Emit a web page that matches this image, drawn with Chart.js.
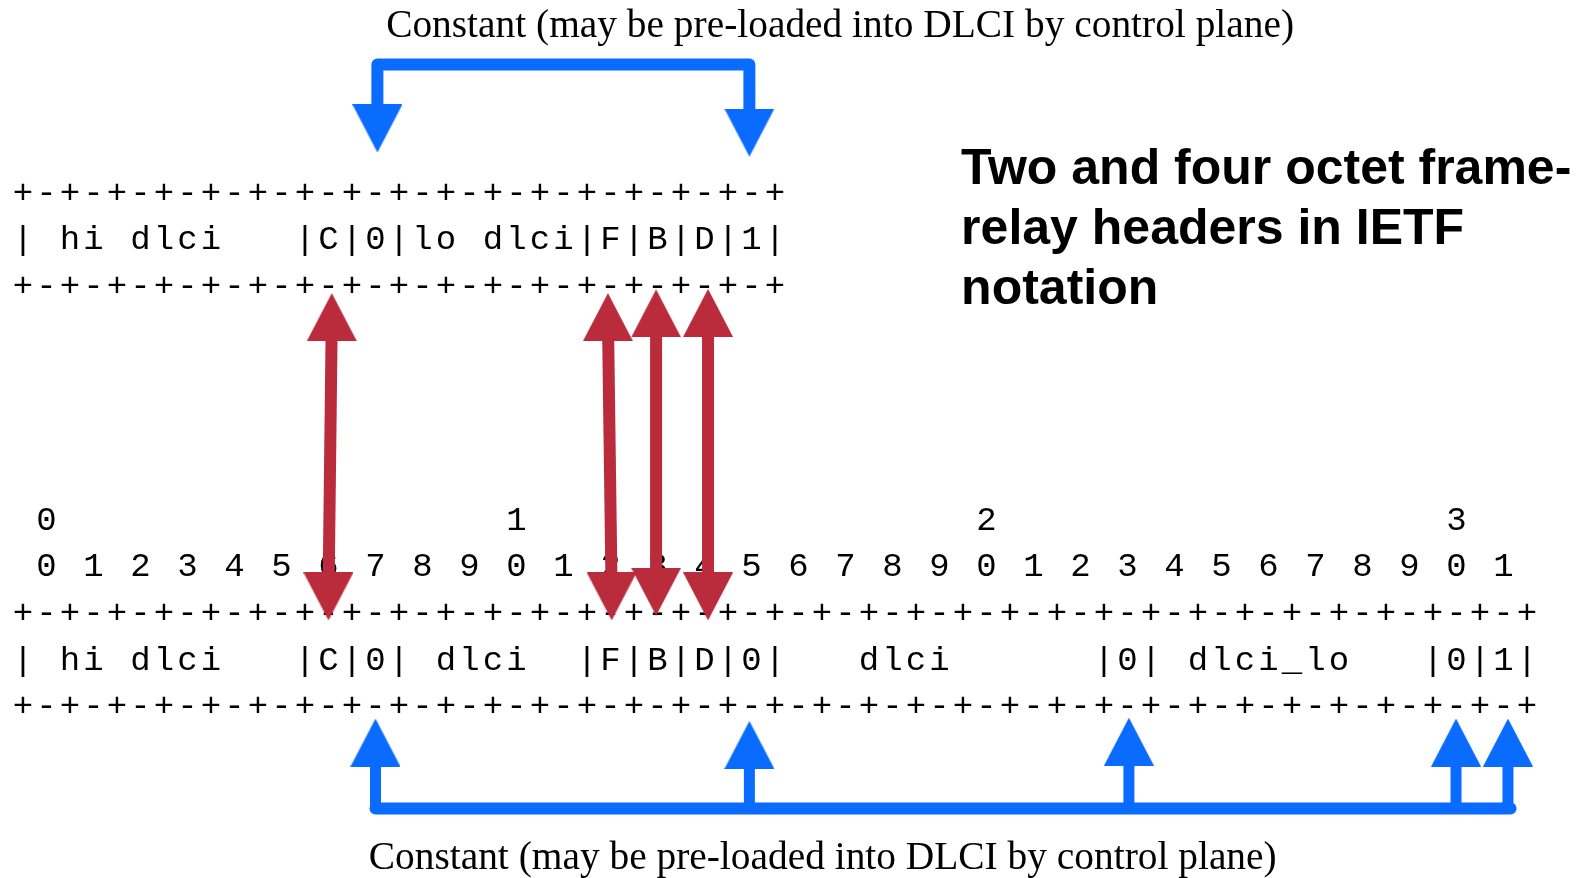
<!DOCTYPE html>
<html>
<head>
<meta charset="utf-8">
<script src="https://cdn.jsdelivr.net/npm/chart.js@4"></script>
<style>
    body { margin: 0; background: #fff; }
    #wrap { width: 1583px; height: 878px; }
</style>
</head>
<body>
<div id="wrap"><canvas id="frChart"></canvas></div>
<script>
// Header rows, one character per column (two columns per bit)
const twoOctetRows = [
    '+-+-+-+-+-+-+-+-+-+-+-+-+-+-+-+-+',
    '| hi dlci   |C|0|lo dlci|F|B|D|1|',
    '+-+-+-+-+-+-+-+-+-+-+-+-+-+-+-+-+'
];
const twoOctetRowY = [0, 1, 2];

// Bit ruler (tick labels)
const bitTens = ' 0                   1                   2                   3';
const bitOnes = ' 0 1 2 3 4 5 6 7 8 9 0 1 2 3 4 5 6 7 8 9 0 1 2 3 4 5 6 7 8 9 0 1';
const rulerRowY = [7, 8];

const fourOctetRows = [
    '+-+-+-+-+-+-+-+-+-+-+-+-+-+-+-+-+-+-+-+-+-+-+-+-+-+-+-+-+-+-+-+-+',
    '| hi dlci   |C|0| dlci  |F|B|D|0|   dlci      |0| dlci_lo   |0|1|',
    '+-+-+-+-+-+-+-+-+-+-+-+-+-+-+-+-+-+-+-+-+-+-+-+-+-+-+-+-+-+-+-+-+'
];
const fourOctetRowY = [9, 10, 11];

const titleLines = ['Two and four octet frame-', 'relay headers in IETF', 'notation'];
const captionText = 'Constant (may be pre-loaded into DLCI by control plane)';

// Blue arrows: constant bits. x = character column, y = text row (arrow head centres)
const topBracket = [[15.08, -1.35], [15.08, -2.72], [30.91, -2.72], [30.91, -1.26]];
const bottomBarY = 13.21;
const bottomBarX = [15.0, 63.3];
const bottomArrowX = [15.0, 30.91, 47.06, 60.98, 63.19];
const bottomHeadY = [11.8, 11.85, 11.78, 11.8, 11.8];

// Red arrows: bits carried between the two formats
const copiedTop = [[13.14, 2.69], [24.89, 2.69], [26.94, 2.61], [29.15, 2.6]];
const copiedBottom = [[13.0, 8.67], [25.05, 8.67], [26.94, 8.57], [29.15, 8.67]];

const BLUE = '#0A6BFF';
const RED = '#BA2B3B';
const monoSize = 34;

function makeHead(color, up) {
    const c = document.createElement('canvas');
    c.width = 50;
    c.height = 48;
    const g = c.getContext('2d');
    g.fillStyle = color;
    g.beginPath();
    if (up) {
        g.moveTo(25, 0); g.lineTo(50, 48); g.lineTo(0, 48);
    } else {
        g.moveTo(0, 0); g.lineTo(50, 0); g.lineTo(25, 48);
    }
    g.closePath();
    g.fill();
    return c;
}
const blueUp = makeHead(BLUE, true);
const blueDown = makeHead(BLUE, false);
const redUp = makeHead(RED, true);
const redDown = makeHead(RED, false);

const datasets = [];

// top bracket
datasets.push({
    data: topBracket.map(p => ({ x: p[0], y: p[1] })),
    showLine: true,
    borderColor: BLUE,
    borderWidth: 12,
    borderCapStyle: 'round',
    borderJoinStyle: 'round',
    pointStyle: [blueDown, 'circle', 'circle', blueDown],
    pointRadius: [1, 0, 0, 1]
});

// bottom bar
datasets.push({
    data: bottomBarX.map(x => ({ x: x, y: bottomBarY })),
    showLine: true,
    borderColor: BLUE,
    borderWidth: 12,
    borderCapStyle: 'round',
    pointRadius: 0
});

bottomArrowX.forEach((x, i) => {
    datasets.push({
        data: [{ x: x, y: bottomHeadY[i] }, { x: x, y: bottomBarY }],
        showLine: true,
        borderColor: BLUE,
        borderWidth: 11,
        pointStyle: [blueUp, 'circle'],
        pointRadius: [1, 0]
    });
});

copiedTop.forEach((p, i) => {
    const q = copiedBottom[i];
    datasets.push({
        data: [{ x: p[0], y: p[1] }, { x: q[0], y: q[1] }],
        showLine: true,
        borderColor: RED,
        borderWidth: 12,
        pointStyle: [redUp, redDown],
        pointRadius: [1, 1]
    });
});

// text layer, drawn under the arrows
const textLayer = {
    id: 'textLayer',
    beforeDatasetsDraw(chart) {
        const ctx = chart.ctx;
        const xs = chart.scales.x;
        const ys = chart.scales.y;
        const cell = xs.getPixelForValue(1) - xs.getPixelForValue(0);

        ctx.save();
        ctx.fillStyle = '#000';
        ctx.textBaseline = 'alphabetic';

        ctx.font = monoSize + 'px "Liberation Mono", monospace';
        const spaced = 'letterSpacing' in ctx;
        if (spaced) ctx.letterSpacing = '0px';
        const adv = ctx.measureText('M').width;
        if (spaced) ctx.letterSpacing = (cell - adv) + 'px';

        function mono(text, row) {
            const base = ys.getPixelForValue(row) + monoSize * 0.33;
            if (spaced) {
                ctx.textAlign = 'left';
                ctx.fillText(text, xs.getPixelForValue(0) - adv / 2, base);
            } else {
                ctx.textAlign = 'center';
                for (let i = 0; i < text.length; i++) {
                    if (text[i] !== ' ') ctx.fillText(text[i], xs.getPixelForValue(i), base);
                }
            }
        }
        twoOctetRows.forEach((t, i) => mono(t, twoOctetRowY[i]));
        mono(bitTens, rulerRowY[0]);
        mono(bitOnes, rulerRowY[1]);
        fourOctetRows.forEach((t, i) => mono(t, fourOctetRowY[i]));
        if (spaced) ctx.letterSpacing = '0px';

        // title
        ctx.font = 'bold 50px "Liberation Sans", Arial, sans-serif';
        ctx.textAlign = 'left';
        titleLines.forEach((t, i) => {
            ctx.fillText(t, xs.getPixelForValue(39.92), ys.getPixelForValue(-0.17 + i * 1.29));
        });

        // captions
        ctx.font = '39.4px "Liberation Serif", "Times New Roman", serif';
        ctx.textAlign = 'center';
        ctx.fillText(captionText, xs.getPixelForValue(34.77), ys.getPixelForValue(-3.31));
        ctx.fillText(captionText, xs.getPixelForValue(34.03), ys.getPixelForValue(14.51));
        ctx.restore();
    }
};

const ctx = document.getElementById('frChart').getContext('2d');
new Chart(ctx, {
    type: 'scatter',
    data: { datasets: datasets },
    options: {
        responsive: true,
        maintainAspectRatio: false,
        animation: false,
        events: [],
        layout: { padding: 0, autoPadding: false },
        plugins: {
            legend: { display: false },
            tooltip: { enabled: false }
        },
        scales: {
            x: { type: 'linear', display: false, min: -0.97872, max: 66.383 },
            y: { type: 'linear', display: false, reverse: true, min: -4.1006, max: 14.7002 }
        }
    },
    plugins: [textLayer]
});
</script>
</body>
</html>
